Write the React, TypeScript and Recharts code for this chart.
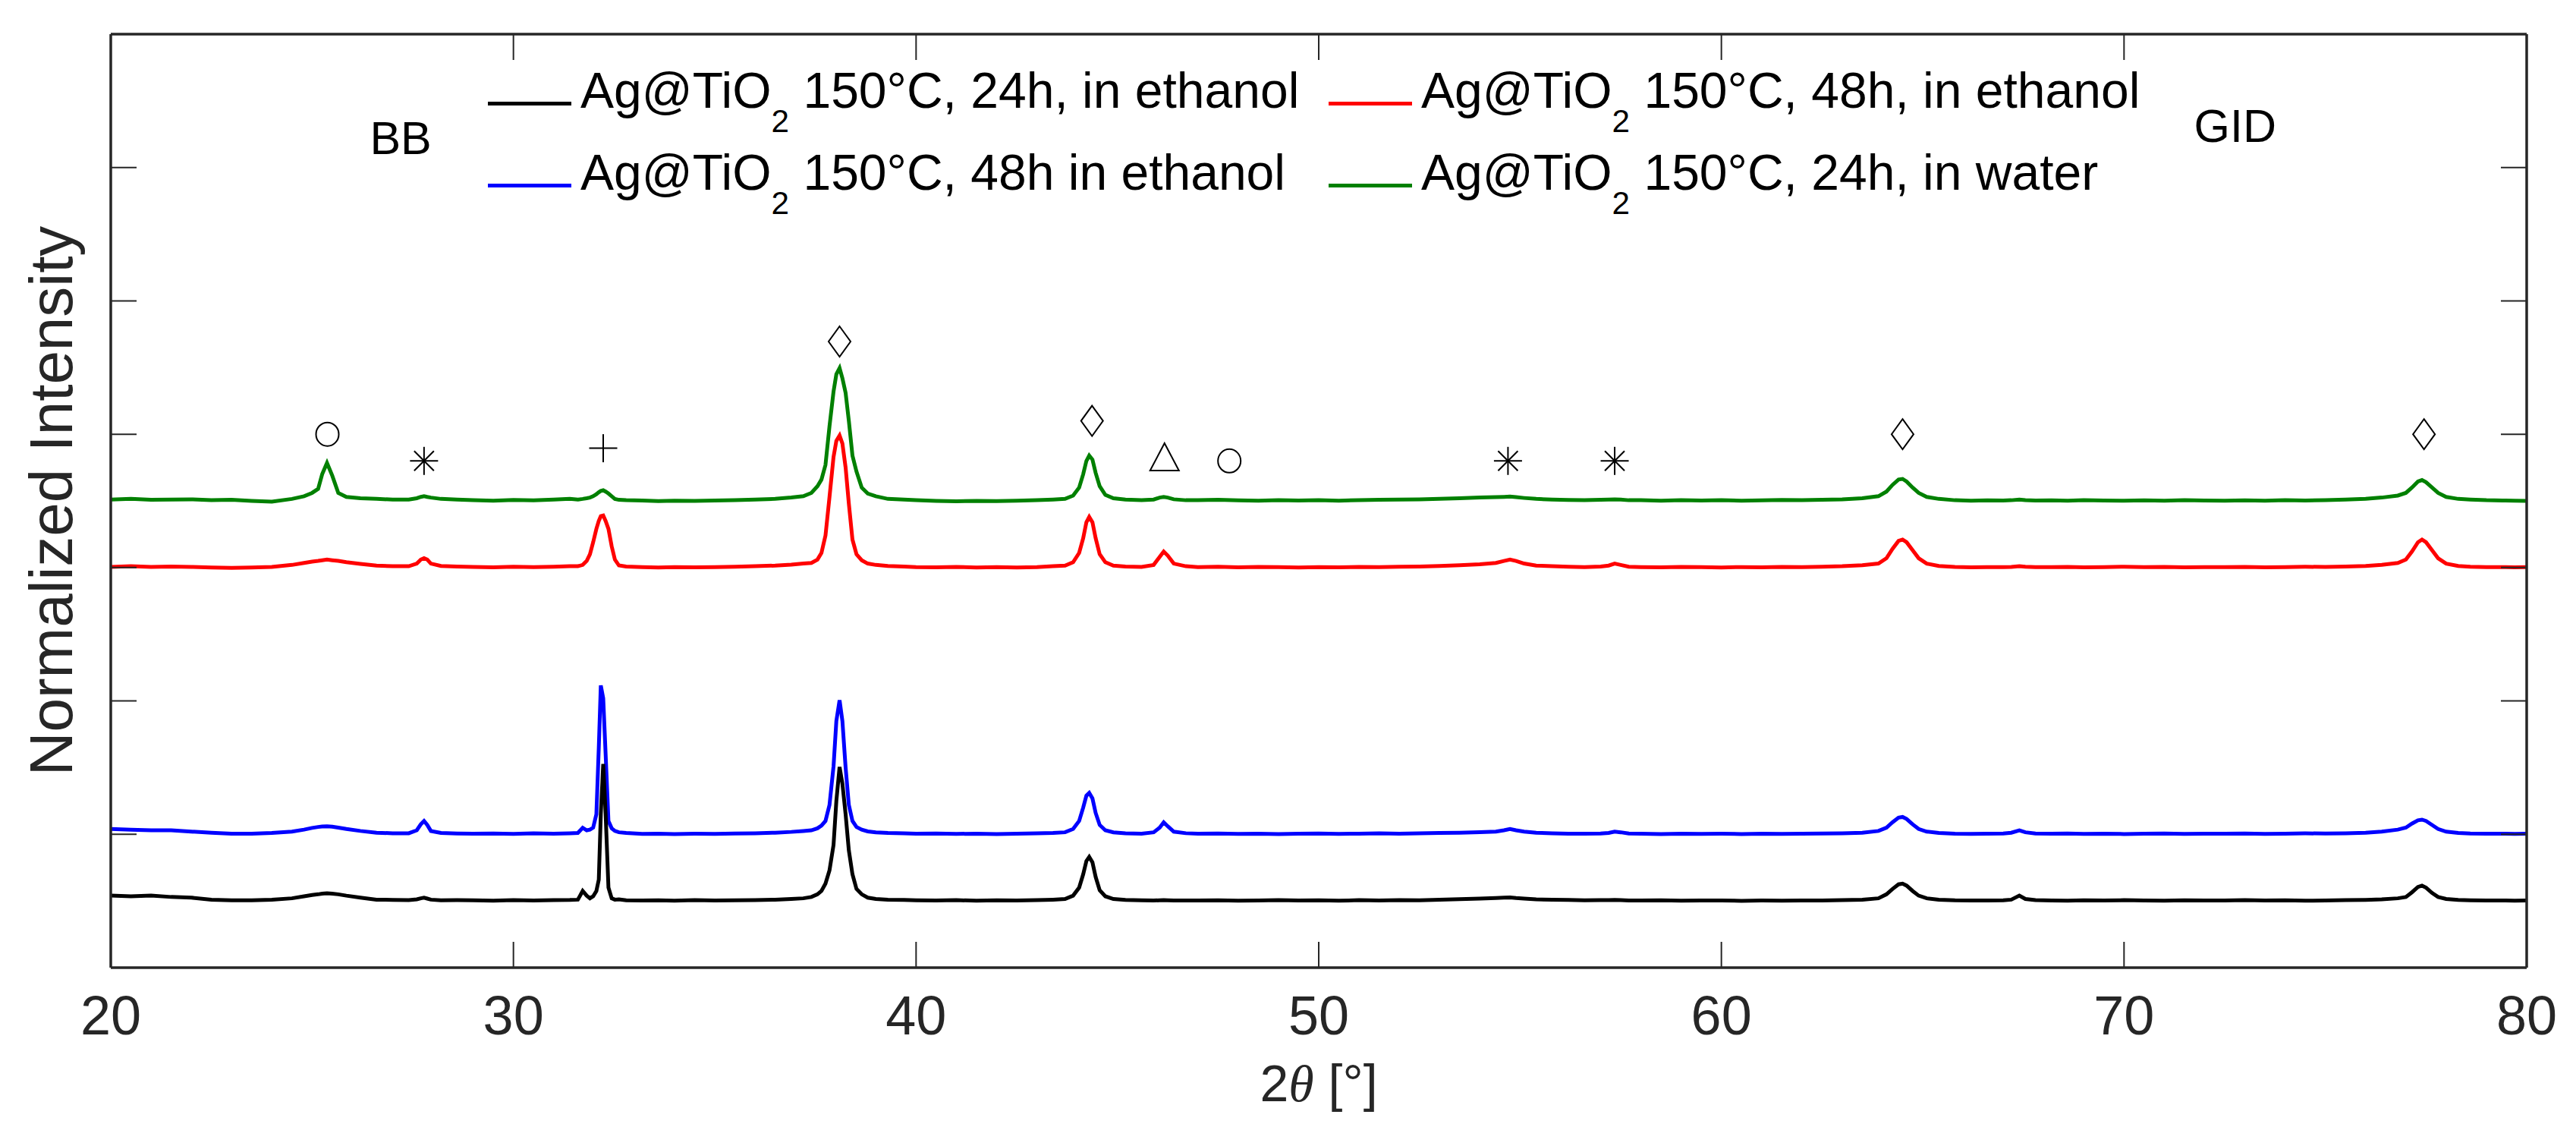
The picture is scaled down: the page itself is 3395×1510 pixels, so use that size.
import React from "react";
import {
  ComposedChart,
  Legend,
  Line,
  Scatter,
  XAxis,
  YAxis,
} from "recharts";

// 2θ grid shared by all four patterns (denser around reflections)
const twoTheta = [
  20, 20.5, 21, 21.5, 22, 22.5, 23, 23.5, 24,
  24.5, 24.8, 25.0, 25.15, 25.25, 25.37, 25.5, 25.65, 25.85, 26.2, 26.6, 27.0,
  27.4, 27.6, 27.7, 27.78, 27.86, 27.95, 28.2, 28.6,
  29.0, 29.5, 30.0, 30.5, 31.0, 31.4,
  31.6, 31.72, 31.82, 31.9, 31.98, 32.06, 32.12, 32.17, 32.23, 32.29, 32.36, 32.44, 32.52, 32.62, 32.8,
  33.2, 33.6, 34.0, 34.5, 35.0, 35.5, 36.0, 36.5, 36.9, 37.2,
  37.4, 37.55, 37.65, 37.75, 37.85, 37.95, 38.02, 38.1, 38.17, 38.25, 38.33, 38.42, 38.52, 38.65, 38.8, 39.0, 39.3,
  39.7, 40.0, 40.5, 41.0, 41.5, 42.0, 42.5, 43.0, 43.4,
  43.7, 43.9, 44.05, 44.15, 44.23, 44.3, 44.38, 44.46, 44.56, 44.7, 44.9, 45.2,
  45.6, 45.9, 46.05, 46.15, 46.25, 46.4, 46.7,
  47.0, 47.5, 48.0, 48.5, 49.0, 49.5, 50.0, 50.5, 51.0, 51.5, 52.0, 52.5, 53.0, 53.5, 54.0, 54.4,
  54.6, 54.75, 54.9, 55.1, 55.4,
  55.8, 56.2, 56.6, 57.0, 57.2,
  57.35, 57.5, 57.7,
  58.0, 58.5, 59.0, 59.5, 60.0, 60.5, 61.0, 61.5, 62.0, 62.5, 63.0, 63.5, 63.9,
  64.1, 64.25, 64.4, 64.5, 64.6, 64.75, 64.9, 65.1, 65.4,
  65.8, 66.2, 66.6, 67.0, 67.2,
  67.4, 67.55, 67.8,
  68.2, 68.6, 69.0, 69.5, 70.0, 70.5, 71.0, 71.5, 72.0, 72.5, 73.0, 73.5, 74.0, 74.5, 75.0, 75.5, 76.0, 76.4, 76.8,
  77.0, 77.15, 77.3, 77.4, 77.5, 77.65, 77.8, 78.0, 78.3,
  78.6, 79.0, 79.4, 79.7, 80.0,
];

// 150°C, 24h, in ethanol (black)
const ethanol24h = [
  0.54, 0.535, 0.54, 0.53, 0.525, 0.51, 0.505, 0.505, 0.51,
  0.52, 0.535, 0.545, 0.55, 0.555, 0.557, 0.555, 0.55, 0.54, 0.525, 0.51, 0.508,
  0.507, 0.512, 0.52, 0.525, 0.518, 0.51, 0.505, 0.506,
  0.505, 0.502, 0.506, 0.503, 0.507, 0.508,
  0.51, 0.575, 0.54, 0.52, 0.535, 0.575, 0.66, 1.15, 1.527, 1.15, 0.6, 0.52, 0.51, 0.512, 0.505,
  0.503, 0.505, 0.502, 0.506, 0.503, 0.505, 0.507, 0.51, 0.515, 0.52,
  0.53, 0.55, 0.575, 0.63, 0.73, 0.92, 1.25, 1.505, 1.38, 1.15, 0.88, 0.7, 0.59, 0.55, 0.525, 0.515, 0.51,
  0.508, 0.505, 0.503, 0.506, 0.502, 0.505, 0.503, 0.506, 0.51,
  0.515, 0.54, 0.6, 0.7, 0.8, 0.83, 0.79, 0.68, 0.58, 0.535, 0.515, 0.508,
  0.505, 0.503, 0.505, 0.507, 0.505, 0.503, 0.504,
  0.503, 0.505, 0.502, 0.504, 0.506, 0.503, 0.505, 0.502, 0.506, 0.504, 0.507, 0.505, 0.51, 0.513, 0.518, 0.522,
  0.525, 0.527, 0.522, 0.518, 0.512,
  0.51, 0.508, 0.505, 0.506, 0.507,
  0.508, 0.506, 0.504,
  0.503, 0.505, 0.502, 0.504, 0.503, 0.501, 0.503, 0.502, 0.504, 0.503, 0.506, 0.51, 0.52,
  0.55, 0.59, 0.625, 0.63, 0.615, 0.575, 0.54, 0.52, 0.51,
  0.505, 0.503, 0.504, 0.505, 0.51,
  0.54, 0.515, 0.506,
  0.504, 0.502, 0.505, 0.503, 0.506, 0.504, 0.502, 0.505, 0.503, 0.504, 0.506, 0.503, 0.505, 0.502, 0.504, 0.506, 0.508, 0.512, 0.52,
  0.53, 0.565, 0.605, 0.615, 0.6, 0.56, 0.53, 0.515, 0.508,
  0.505, 0.503, 0.504, 0.502, 0.503,
];

// 150°C, 48h in ethanol (blue)
const ethanol48hB = [
  1.04, 1.035, 1.03, 1.03, 1.02, 1.012, 1.005, 1.005, 1.01,
  1.02, 1.035, 1.048, 1.055, 1.058, 1.06, 1.057, 1.05, 1.04, 1.025, 1.012, 1.008,
  1.008, 1.03, 1.075, 1.1, 1.07, 1.025, 1.01, 1.006,
  1.004, 1.006, 1.003, 1.007, 1.005, 1.008,
  1.01, 1.049, 1.03, 1.035, 1.05, 1.15, 1.65, 2.116, 2.02, 1.6, 1.1, 1.045, 1.025, 1.015, 1.01,
  1.003, 1.005, 1.002, 1.004, 1.003, 1.006, 1.008, 1.012, 1.018, 1.025,
  1.03, 1.045, 1.065, 1.1, 1.22, 1.51, 1.85, 2.005, 1.85, 1.5, 1.22, 1.1, 1.055, 1.035, 1.022, 1.015, 1.01,
  1.008, 1.004, 1.006, 1.003, 1.005, 1.002, 1.004, 1.007, 1.01,
  1.015, 1.04, 1.1, 1.2, 1.29, 1.31, 1.27, 1.16, 1.07, 1.03, 1.015, 1.008,
  1.005, 1.015, 1.05, 1.09, 1.06, 1.02, 1.008,
  1.004, 1.006, 1.003, 1.005, 1.002, 1.004, 1.006, 1.003, 1.005, 1.007, 1.004, 1.008, 1.01, 1.012, 1.016, 1.02,
  1.03, 1.04, 1.03, 1.02, 1.012,
  1.008, 1.005, 1.004, 1.006, 1.01,
  1.02, 1.015, 1.006,
  1.004, 1.002, 1.005, 1.003, 1.004, 1.002, 1.005, 1.003, 1.004, 1.006, 1.008, 1.012, 1.025,
  1.05, 1.09, 1.125, 1.13, 1.115, 1.075, 1.04, 1.02, 1.01,
  1.005, 1.003, 1.004, 1.006, 1.012,
  1.03, 1.015, 1.006,
  1.004, 1.006, 1.003, 1.005, 1.002, 1.004, 1.006, 1.003, 1.005, 1.004, 1.006, 1.003, 1.005, 1.007, 1.006, 1.008, 1.012, 1.02, 1.035,
  1.05, 1.08, 1.105, 1.11, 1.1, 1.07, 1.04, 1.02, 1.01,
  1.006, 1.004, 1.005, 1.003, 1.004,
];

// 150°C, 48h, in ethanol (red)
const ethanol48hR = [
  3.005, 3.01, 3.005, 3.008, 3.005, 3.0, 2.998, 3.0, 3.005,
  3.02, 3.035, 3.045, 3.05, 3.055, 3.06, 3.055, 3.05, 3.04, 3.028, 3.015, 3.01,
  3.01, 3.03, 3.06, 3.07, 3.06, 3.03, 3.012, 3.008,
  3.005, 3.002, 3.007, 3.003, 3.006, 3.01,
  3.01, 3.02, 3.05, 3.1, 3.19, 3.29, 3.35, 3.385, 3.39, 3.35, 3.29, 3.16, 3.06, 3.016, 3.008,
  3.003, 3.0, 3.004, 3.002, 3.004, 3.006, 3.01, 3.015, 3.022, 3.03,
  3.035, 3.06, 3.11, 3.24, 3.53, 3.83, 3.95, 3.99, 3.93, 3.75, 3.48, 3.21, 3.1, 3.055, 3.03, 3.02, 3.012,
  3.008, 3.004, 3.002, 3.005, 3.0, 3.003, 3.001, 3.004, 3.01,
  3.015, 3.04, 3.11, 3.22, 3.34, 3.38, 3.34, 3.22, 3.1, 3.04, 3.015, 3.008,
  3.005, 3.02, 3.08, 3.12, 3.09, 3.03, 3.01,
  3.004, 3.006, 3.002, 3.005, 3.003, 3.0, 3.004, 3.002, 3.005, 3.003, 3.006, 3.008, 3.012, 3.018, 3.025, 3.035,
  3.05, 3.06, 3.05, 3.03, 3.015,
  3.01, 3.006, 3.004, 3.008, 3.015,
  3.03, 3.02, 3.006,
  3.004, 3.002, 3.005, 3.003, 3.001, 3.004, 3.002, 3.005, 3.003, 3.006, 3.01, 3.018, 3.03,
  3.07, 3.14, 3.2, 3.21, 3.19, 3.13, 3.07, 3.03, 3.012,
  3.005, 3.002, 3.004, 3.003, 3.005,
  3.01, 3.006, 3.004,
  3.003, 3.005, 3.002, 3.004, 3.006, 3.003, 3.005, 3.002, 3.004, 3.003, 3.005, 3.002, 3.004, 3.006, 3.005, 3.008, 3.012, 3.02, 3.035,
  3.06, 3.12, 3.19, 3.21, 3.19, 3.13, 3.07, 3.03, 3.012,
  3.006, 3.003, 3.004, 3.002, 3.003,
];

// 150°C, 24h, in water (green)
const water24h = [
  3.51, 3.515, 3.508, 3.51, 3.512, 3.505, 3.508, 3.5, 3.495,
  3.515, 3.535, 3.56, 3.59, 3.7, 3.785, 3.69, 3.56, 3.53, 3.52, 3.515, 3.51,
  3.51, 3.52, 3.53, 3.535, 3.53, 3.525, 3.515, 3.51,
  3.505, 3.502, 3.507, 3.504, 3.51, 3.515,
  3.51, 3.515, 3.52, 3.525, 3.535, 3.55, 3.565, 3.575, 3.58, 3.57, 3.555, 3.535, 3.515, 3.508, 3.505,
  3.503, 3.498, 3.502, 3.5, 3.503, 3.506, 3.51, 3.515, 3.525, 3.535,
  3.56, 3.61, 3.66, 3.77, 4.06, 4.32, 4.45, 4.496, 4.42, 4.31, 4.1, 3.84, 3.72, 3.6, 3.555, 3.535, 3.515,
  3.51, 3.505, 3.5, 3.497, 3.5, 3.498, 3.502, 3.505, 3.51,
  3.515, 3.54, 3.6, 3.7, 3.8, 3.84, 3.81, 3.71, 3.61, 3.545, 3.52, 3.51,
  3.505, 3.51, 3.525, 3.53, 3.525, 3.512, 3.505,
  3.505, 3.508, 3.504, 3.502, 3.506, 3.503, 3.505, 3.502, 3.506, 3.508, 3.51, 3.512, 3.515, 3.52, 3.525, 3.528,
  3.53, 3.532, 3.528, 3.522, 3.515,
  3.51, 3.507, 3.505, 3.508, 3.51,
  3.512, 3.51, 3.505,
  3.505, 3.502, 3.506, 3.503, 3.505, 3.502, 3.504, 3.507, 3.505, 3.508, 3.512, 3.52, 3.535,
  3.57, 3.62, 3.66, 3.665, 3.645, 3.6, 3.56, 3.53, 3.515,
  3.505, 3.502, 3.504, 3.503, 3.505,
  3.51, 3.506, 3.503,
  3.504, 3.502, 3.505, 3.503, 3.501, 3.504, 3.502, 3.505, 3.503, 3.501, 3.504, 3.502, 3.505, 3.503, 3.506, 3.51, 3.515, 3.525, 3.54,
  3.56, 3.6, 3.645, 3.656, 3.64, 3.6, 3.56, 3.53, 3.515,
  3.51, 3.505, 3.503, 3.502, 3.5,
];

const seriesNames = [
  "Ag@TiO2 150°C, 24h, in ethanol",
  "Ag@TiO2 150°C, 48h, in ethanol",
  "Ag@TiO2 150°C, 48h in ethanol",
  "Ag@TiO2 150°C, 24h, in water",
];

// phase markers above the reflections
const markerX = [25.38, 27.78, 32.23, 38.1, 44.37, 46.17, 47.78, 54.7, 57.35, 64.5, 77.45];
const markerY = [4.0, 3.8, 3.895, 4.695, 4.1, 3.83, 3.8, 3.8, 3.8, 4.0, 4.0];
const markerSymbol = [
  "circle", "asterisk", "plus", "diamond", "diamond", "triangle",
  "circle", "asterisk", "asterisk", "diamond", "diamond",
];

const noteText = ["BB", "GID"];
const noteX = [27.2, 72.76];
const noteY = [6.22, 6.31];

const xTicks = [20, 30, 40, 50, 60, 70, 80];
const yTicks = [1, 2, 3, 4, 5, 6];

const FONT = '"Liberation Sans", Arial, Helvetica, sans-serif';
const AXIS = "#262626";
const TICK_LEN = 34;

const toPoints = (ys: number[]) => twoTheta.map((x, i) => ({ x, y: ys[i] }));

const blackData = toPoints(ethanol24h);
const blueData = toPoints(ethanol48hB);
const redData = toPoints(ethanol48hR);
const greenData = toPoints(water24h);

const markerData = markerX.map((x, i) => ({ x, y: markerY[i], sym: markerSymbol[i] }));
const noteData = noteX.map((x, i) => ({ x, y: noteY[i], text: noteText[i] }));

function BottomTick({ x, y, payload }: any) {
  return (
    <g>
      <line x1={x} y1={y} x2={x} y2={y - TICK_LEN} stroke={AXIS} strokeWidth={2} />
      <text x={x} y={y + 88} textAnchor="middle" fontSize={72} fill={AXIS} fontFamily={FONT}>
        {payload.value}
      </text>
    </g>
  );
}

function TopTick({ x, y }: any) {
  return <line x1={x} y1={y} x2={x} y2={y + TICK_LEN} stroke={AXIS} strokeWidth={2} />;
}

function LeftTick({ x, y }: any) {
  return <line x1={x} y1={y} x2={x + TICK_LEN} y2={y} stroke={AXIS} strokeWidth={2} />;
}

function RightTick({ x, y }: any) {
  return <line x1={x} y1={y} x2={x - TICK_LEN} y2={y} stroke={AXIS} strokeWidth={2} />;
}

function PhaseMarker({ cx, cy, payload }: any) {
  const s = { stroke: "#000", strokeWidth: 2, fill: "none" };
  switch (payload.sym) {
    case "circle":
      return <ellipse cx={cx} cy={cy} rx={15} ry={15.5} {...s} />;
    case "plus":
      return (
        <g {...s}>
          <line x1={cx - 18.5} y1={cy} x2={cx + 18.5} y2={cy} />
          <line x1={cx} y1={cy - 18.5} x2={cx} y2={cy + 18.5} />
        </g>
      );
    case "asterisk":
      return (
        <g {...s}>
          <line x1={cx - 18.5} y1={cy} x2={cx + 18.5} y2={cy} />
          <line x1={cx} y1={cy - 18.5} x2={cx} y2={cy + 18.5} />
          <line x1={cx - 13} y1={cy - 13} x2={cx + 13} y2={cy + 13} />
          <line x1={cx - 13} y1={cy + 13} x2={cx + 13} y2={cy - 13} />
        </g>
      );
    case "diamond":
      return (
        <polygon
          points={`${cx},${cy - 20} ${cx + 14.5},${cy} ${cx},${cy + 20} ${cx - 14.5},${cy}`}
          {...s}
        />
      );
    case "triangle":
      return (
        <polygon points={`${cx},${cy - 18} ${cx + 19},${cy + 18} ${cx - 19},${cy + 18}`} {...s} />
      );
    default:
      return null;
  }
}

function NoteText({ cx, cy, payload }: any) {
  return (
    <text x={cx} y={cy} textAnchor="middle" dominantBaseline="central" fontSize={61} fill="#000" fontFamily={FONT}>
      {payload.text}
    </text>
  );
}

function renderName(name: string) {
  const [head, tail] = name.split("TiO2");
  return (
    <>
      {head}TiO
      <span style={{ fontSize: "0.64em", verticalAlign: "-0.75em", lineHeight: 0 }}>2</span>
      {tail}
    </>
  );
}

function LegendBlock({ payload }: any) {
  const items = [...(payload ?? [])]
    .filter((p: any) => seriesNames.includes(p.value))
    .sort((a: any, b: any) => seriesNames.indexOf(a.value) - seriesNames.indexOf(b.value));
  return (
    <div
      style={{
        display: "grid",
        gridTemplateColumns: "1108px auto",
        fontFamily: FONT,
        fontSize: 66,
        color: "#000",
      }}
    >
      {items.map((p: any) => (
        <div key={p.value} style={{ display: "flex", alignItems: "center", height: 108, whiteSpace: "nowrap" }}>
          <div
            style={{ width: 110, height: 5, background: p.color, marginTop: 34, marginRight: 12, flexShrink: 0 }}
          />
          <span style={{ lineHeight: "66px", height: 66, display: "block" }}>{renderName(p.value)}</span>
        </div>
      ))}
    </div>
  );
}

export default function App() {
  return (
    <ComposedChart
      width={3387}
      height={1502}
      margin={{ top: 36, right: 64, bottom: 35, left: 18 }}
    >
      <XAxis
        dataKey="x"
        type="number"
        domain={[20, 80]}
        ticks={xTicks}
        interval={0}
        allowDataOverflow
        height={200}
        tickSize={0}
        tickMargin={0}
        tickLine={false}
        axisLine={{ stroke: AXIS, strokeWidth: 3.5 }}
        tick={(p: any) => <BottomTick {...p} />}
        label={(props: any) => {
          const vb = props.viewBox;
          return (
            <text
              x={vb.x + vb.width / 2}
              y={vb.y + 176}
              textAnchor="middle"
              fontSize={68}
              fill={AXIS}
              fontFamily={FONT}
            >
              2<tspan fontFamily='"Liberation Serif", "Times New Roman", serif' fontStyle="italic">θ</tspan> [°]
            </text>
          );
        }}
      />
      <XAxis
        xAxisId="top"
        orientation="top"
        dataKey="x"
        type="number"
        domain={[20, 80]}
        ticks={xTicks}
        interval={0}
        allowDataOverflow
        height={1}
        tickSize={0}
        tickMargin={0}
        tickLine={false}
        axisLine={{ stroke: AXIS, strokeWidth: 3.5 }}
        tick={(p: any) => <TopTick {...p} />}
      />
      <YAxis
        type="number"
        domain={[0, 7]}
        ticks={yTicks}
        interval={0}
        allowDataOverflow
        width={120}
        tickSize={0}
        tickMargin={0}
        tickLine={false}
        axisLine={{ stroke: AXIS, strokeWidth: 3.5 }}
        tick={(p: any) => <LeftTick {...p} />}
        label={(props: any) => {
          const vb = props.viewBox;
          const cx = vb.x + vb.width - 78.5;
          const cy = vb.y + vb.height / 2;
          return (
            <text
              x={cx}
              y={cy}
              transform={`rotate(-90, ${cx}, ${cy})`}
              textAnchor="middle"
              dominantBaseline="central"
              fontSize={80}
              fill={AXIS}
              fontFamily={FONT}
            >
              Normalized Intensity
            </text>
          );
        }}
      />
      <YAxis
        yAxisId="right"
        orientation="right"
        type="number"
        domain={[0, 7]}
        ticks={yTicks}
        interval={0}
        allowDataOverflow
        width={1}
        tickSize={0}
        tickMargin={0}
        tickLine={false}
        axisLine={{ stroke: AXIS, strokeWidth: 3.5 }}
        tick={(p: any) => <RightTick {...p} />}
      />
      <Legend
        layout="horizontal"
        verticalAlign="middle"
        align="center"
        wrapperStyle={{ left: 635, top: 57, width: "auto" }}
        content={(p: any) => <LegendBlock {...p} />}
      />
      <Line
        data={greenData}
        dataKey="y"
        name={seriesNames[3]}
        stroke="#008000"
        strokeWidth={5}
        dot={false}
        activeDot={false}
        isAnimationActive={false}
      />
      <Line
        data={redData}
        dataKey="y"
        name={seriesNames[1]}
        stroke="#ff0000"
        strokeWidth={5}
        dot={false}
        activeDot={false}
        isAnimationActive={false}
      />
      <Line
        data={blueData}
        dataKey="y"
        name={seriesNames[2]}
        stroke="#0000ff"
        strokeWidth={5}
        dot={false}
        activeDot={false}
        isAnimationActive={false}
      />
      <Line
        data={blackData}
        dataKey="y"
        name={seriesNames[0]}
        stroke="#000000"
        strokeWidth={5}
        dot={false}
        activeDot={false}
        isAnimationActive={false}
      />
      <Scatter
        data={markerData}
        dataKey="y"
        legendType="none"
        shape={(p: any) => <PhaseMarker {...p} />}
        isAnimationActive={false}
      />
      <Scatter
        data={noteData}
        dataKey="y"
        legendType="none"
        shape={(p: any) => <NoteText {...p} />}
        isAnimationActive={false}
      />
    </ComposedChart>
  );
}
